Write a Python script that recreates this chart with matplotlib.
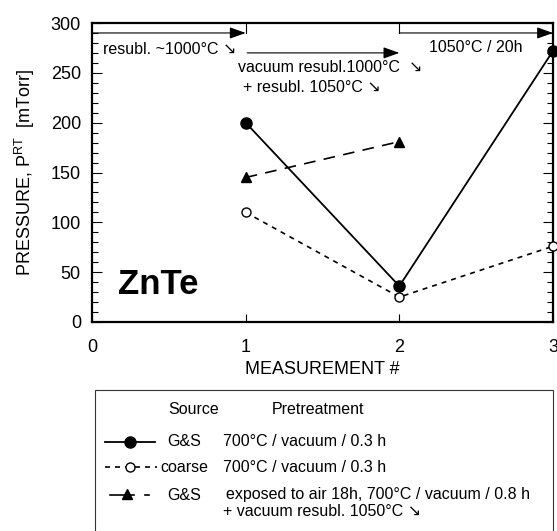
# ZnTe room-temperature pressure vs measurement number
import matplotlib
matplotlib.use('Agg')
import matplotlib.pyplot as plt
from matplotlib.lines import Line2D
from matplotlib.patches import Rectangle
from matplotlib.ticker import MultipleLocator

plt.rcParams['font.family'] = ['Liberation Sans', 'DejaVu Sans']
plt.rcParams['mathtext.fontset'] = 'custom'
plt.rcParams['mathtext.rm'] = 'Liberation Sans'

# data
meas = [1, 2, 3]
gs_700 = [200, 36, 272]
coarse_700 = [110, 25, 76]
meas_air = [1, 2]
gs_air = [145, 181]

x_ticks = [0, 1, 2, 3]
y_ticks = [0, 50, 100, 150, 200, 250, 300]

leg_source = ['G&S', 'coarse', 'G&S']
leg_pretreat = ['700°C / vacuum / 0.3 h',
                '700°C / vacuum / 0.3 h',
                'exposed to air 18h, 700°C / vacuum / 0.8 h']
leg_extra = '+ vacuum resubl. 1050°C ↘'

W, H = 557, 531
fig = plt.figure(figsize=(W / 100, H / 100), dpi=100)


def px(x, y):
    # pixel (from top-left) -> figure fraction
    return x / W, 1 - y / H


ax = fig.add_axes([92 / W, 1 - 322 / H, (553 - 92) / W, (322 - 23) / H])

ax.plot(meas, gs_700, 'k-', lw=1.3, marker='o', ms=8, clip_on=False, zorder=5)
ax.plot(meas, coarse_700, color='k', ls=(0, (3, 3)), lw=1.2, marker='o', ms=6.5,
        mfc='white', mew=1.0, clip_on=False, zorder=5)
ax.plot(meas_air, gs_air, color='k', ls=(0, (7, 5)), lw=1.2, marker='^', ms=7,
        clip_on=False, zorder=5)

ax.set_xlim(0, 3)
ax.set_ylim(0, 300)
ax.set_xticks(x_ticks)
ax.set_yticks(y_ticks)
ax.yaxis.set_minor_locator(MultipleLocator(10))
ax.tick_params(axis='y', which='both', direction='in', left=True, right=True,
               labelsize=13, pad=8, width=0.8)
ax.tick_params(axis='y', which='major', length=7)
ax.tick_params(axis='y', which='minor', length=4)
ax.tick_params(axis='x', direction='in', top=False, length=6, width=0.8,
               labelsize=13, pad=12)
for s in ax.spines.values():
    s.set_linewidth(1.6)

ax.set_xlabel('MEASUREMENT #', fontsize=13, labelpad=4)
ax.set_ylabel(r'PRESSURE, P$^{\mathrm{RT}}$  [mTorr]', fontsize=13, labelpad=10)

# treatment arrows along the top
arr = dict(arrowstyle='-|>,head_length=0.7,head_width=0.25', color='k', lw=0.8,
           mutation_scale=14, shrinkA=0, shrinkB=0)
ax.annotate('', xy=(1, 290), xytext=(0, 290), arrowprops=arr)
ax.plot([1, 1], [290, 300], 'k-', lw=0.8)
ax.annotate('', xy=(2, 270), xytext=(1.01, 270), arrowprops=arr)
ax.annotate('', xy=(3, 290), xytext=(2, 290), arrowprops=arr)
ax.plot([2, 2], [290, 300], 'k-', lw=0.8)

ax.text(0.072, 273, 'resubl. ~1000°C ↘', fontsize=11.5, va='center')
ax.text(0.95, 255, 'vacuum resubl.1000°C  ↘', fontsize=11.5, va='center')
ax.text(0.98, 235, '+ resubl. 1050°C ↘', fontsize=11.5, va='center')
ax.text(2.19, 275, '1050°C / 20h', fontsize=11.5, va='center')

ax.text(0.17, 28, 'ZnTe', fontsize=25, fontweight='bold', va='baseline')

# hand-made legend box below the axes
x0, y0 = px(95, 390)
x1, _ = px(553, 390)
fig.add_artist(Rectangle((x0, -0.05), x1 - x0, y0 + 0.05, transform=fig.transFigure,
                         fill=False, lw=0.8, edgecolor='#333333'))

fs = 11.5
fig.text(*px(168, 410), 'Source', fontsize=fs, va='center')
fig.text(*px(272, 410), 'Pretreatment', fontsize=fs, va='center')

rows_y = [442, 467, 495]
src_x = [167, 160, 167]
txt_x = [223, 223, 226]
for i in range(3):
    fig.text(*px(src_x[i], rows_y[i]), leg_source[i], fontsize=fs, va='center')
    fig.text(*px(txt_x[i], rows_y[i]), leg_pretreat[i], fontsize=fs, va='center')
fig.text(*px(223, 512), leg_extra, fontsize=fs, va='center')


def fig_line(xa, xb, y, **kw):
    a, b = px(xa, y), px(xb, y)
    fig.add_artist(Line2D([a[0], b[0]], [a[1], b[1]], color='k',
                          transform=fig.transFigure, **kw))


def fig_marker(x, y, **kw):
    m = px(x, y)
    fig.add_artist(Line2D([m[0]], [m[1]], color='k', ls='none',
                          transform=fig.transFigure, **kw))


fig_line(105, 155, rows_y[0], lw=1.3)
fig_marker(130, rows_y[0], marker='o', ms=8)

fig_line(105, 157, rows_y[1], lw=1.2, ls=(0, (3, 3)))
fig_marker(130, rows_y[1], marker='o', ms=6.5, mfc='white', mew=1.0)

fig_line(110, 134, rows_y[2], lw=1.2)
fig_line(145, 149, rows_y[2], lw=1.2)
fig_marker(127, rows_y[2] - 1, marker='^', ms=7)

fig.savefig('out.png', dpi=100)
